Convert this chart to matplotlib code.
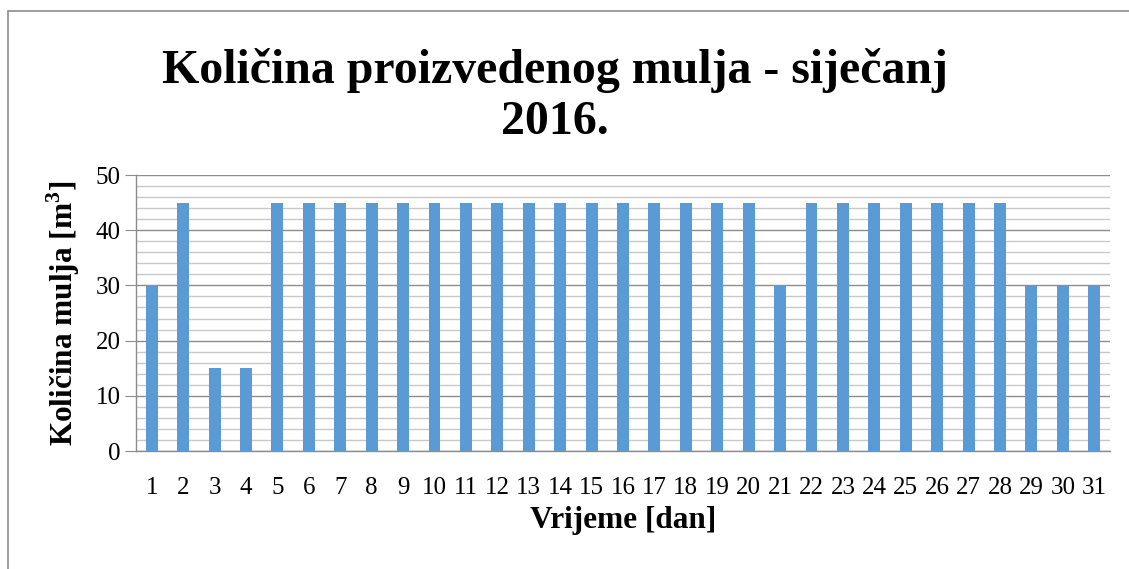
import matplotlib
matplotlib.use("Agg")
import matplotlib.pyplot as plt
from matplotlib.patches import Rectangle
from matplotlib.ticker import MultipleLocator

# ── Data ─────────────────────────────────────────
days = list(range(1, 32))
sludge = [30, 45, 15, 15, 45, 45, 45, 45, 45, 45, 45, 45, 45, 45, 45, 45,
          45, 45, 45, 45, 30, 45, 45, 45, 45, 45, 45, 45, 30, 30, 30]

plt.rcParams["font.family"] = ["Liberation Serif", "DejaVu Serif"]

fig = plt.figure(figsize=(11.29, 5.69), dpi=100)
ax = fig.add_axes([136 / 1129, 1 - 451 / 569, 974 / 1129, 276 / 569])

ax.bar(days, sludge, width=0.38, color="#5B9BD5", zorder=3)

ax.set_xlim(0.5, 31.5)
ax.set_ylim(0, 50)
ax.yaxis.set_major_locator(MultipleLocator(10))
ax.yaxis.set_minor_locator(MultipleLocator(2))
ax.set_xticks(days)
ax.set_xticklabels([str(d) for d in days])

ax.grid(axis="y", which="major", color="#8c8c8c", linewidth=1.0, zorder=0)
ax.grid(axis="y", which="minor", color="#c8c8c8", linewidth=1.0, zorder=0)

for s in ["top", "right"]:
    ax.spines[s].set_visible(False)
for s in ["left", "bottom"]:
    ax.spines[s].set_color("#8c8c8c")
    ax.spines[s].set_linewidth(1.0)

ax.tick_params(axis="y", which="major", length=8, color="#8c8c8c", labelsize=18, pad=3)
ax.tick_params(axis="y", which="minor", length=0)
ax.tick_params(axis="x", length=0, labelsize=18, pad=19)

ax.set_xlabel("Vrijeme [dan]", fontsize=22.5, fontweight="bold", labelpad=5)
ax.set_ylabel("Količina mulja [m$^{\\mathregular{3}}$]", fontsize=22.5, fontweight="bold", labelpad=10)

fig.text(555 / 1129, 1 - 96 / 569, "Količina proizvedenog mulja - siječanj\n2016.",
         ha="center", va="center", fontsize=34.5, fontweight="bold", linespacing=1.2)

# outer chart frame
fig.patches.append(Rectangle((8 / 1129, -0.1), 1.2, 1 - 10.5 / 569 + 0.1,
                             transform=fig.transFigure, fill=False,
                             edgecolor="#8c8c8c", linewidth=1.2))

fig.savefig("out.png", dpi=100, facecolor="white")
